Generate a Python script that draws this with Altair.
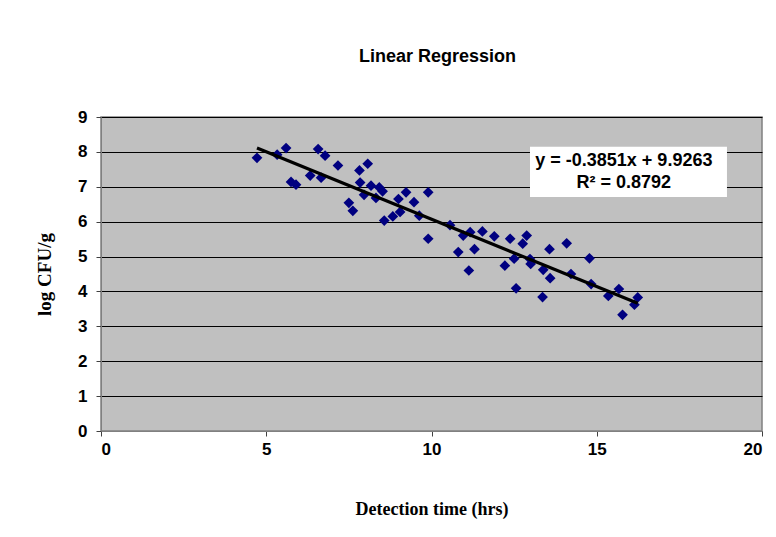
import altair as alt
import pandas as pd

# Detection time (hrs) and log CFU/g
x_vals = [4.72, 5.33, 5.60, 5.75, 5.90, 6.33, 6.57, 6.78, 6.66, 7.17,
          7.50, 7.62, 7.82, 8.07, 7.84, 7.96, 8.17, 8.42, 8.32, 8.52,
          8.57, 8.83, 9.00, 9.05, 9.23, 9.47, 9.63, 9.90, 9.90, 10.56,
          10.96, 11.17, 10.81, 11.30, 11.13, 11.54, 11.90, 12.38, 12.22, 12.50,
          12.76, 12.88, 12.56, 12.98, 13.00, 13.57, 14.09, 14.78, 13.38, 13.59,
          14.22, 14.83, 15.35, 15.67, 15.78, 16.14, 16.24, 13.36]
y_vals = [7.83, 7.92, 8.11, 7.14, 7.06, 7.32, 8.08, 7.89, 7.26, 7.61,
          6.54, 6.31, 7.47, 7.66, 7.12, 6.77, 7.03, 6.98, 6.68, 6.87,
          6.03, 6.15, 6.65, 6.28, 6.84, 6.56, 6.17, 6.84, 5.51, 5.90,
          5.60, 5.70, 5.13, 5.21, 4.60, 5.72, 5.58, 5.51, 4.74, 4.94,
          5.37, 5.60, 4.09, 4.93, 4.79, 5.21, 5.38, 4.95, 4.62, 4.38,
          4.50, 4.21, 3.87, 4.07, 3.33, 3.62, 3.83, 3.84]

x_ticks = [0, 5, 10, 15, 20]
y_ticks = [0, 1, 2, 3, 4, 5, 6, 7, 8, 9]

eq_lines = ["y = -0.3851x + 9.9263", "R\u00b2 = 0.8792"]
eq_line_y = [7.75, 7.12]
eq_center_x = [15.82, 15.82]
box = {"x": [12.98], "x2": [18.94], "y": [8.15], "y2": [6.71]}

df = pd.DataFrame({"x": x_vals, "y": y_vals})
df_eq = pd.DataFrame({"t": eq_lines, "x": eq_center_x, "y": eq_line_y})
df_box = pd.DataFrame(box)

xs = alt.Scale(domain=[0, 20], nice=False, zero=False)
ys = alt.Scale(domain=[0, 9], nice=False, zero=False)

xaxis = alt.Axis(values=x_ticks, grid=False, title="Detection time (hrs)",
                 labelFont="Liberation Sans", labelFontSize=17, labelFontWeight="bold",
                 labelColor="black", labelPadding=5,
                 titleFont="Liberation Serif", titleFontSize=18, titleFontWeight="bold",
                 titleColor="black", titlePadding=43,
                 domainColor="#808080", tickColor="#404040", tickSize=5)
yaxis = alt.Axis(values=y_ticks, grid=True, gridColor="black", gridWidth=1,
                 title="log CFU/g", labelOverlap=False,
                 labelFont="Liberation Sans", labelFontSize=17, labelFontWeight="bold",
                 labelColor="black", labelPadding=9,
                 titleFont="Liberation Serif", titleFontSize=19, titleFontWeight="bold",
                 titleColor="black", titlePadding=23,
                 domainColor="#808080", tickColor="#404040", tickSize=5)

X = alt.X("x:Q", scale=xs, axis=xaxis)
Y = alt.Y("y:Q", scale=ys, axis=yaxis)

points = alt.Chart(df).mark_point(shape="diamond", filled=True, color="#000080",
                                  size=115, opacity=1).encode(x=X, y=Y)

trend = alt.Chart(df).transform_regression("x", "y").mark_line(
    color="black", strokeWidth=3.2).encode(x=X, y=Y)

boxmark = alt.Chart(df_box).mark_rect(color="white", opacity=1).encode(
    x=X, x2="x2:Q", y=Y, y2="y2:Q")

eqtext = alt.Chart(df_eq).mark_text(font="Liberation Sans", fontSize=18,
                                    fontWeight="bold", color="black",
                                    baseline="middle", align="center").encode(
    x=X, y=Y, text="t:N")

chart = alt.layer(points, trend, boxmark, eqtext).properties(
    width=661, height=314,
    background="white",
    title=alt.TitleParams("Linear Regression", font="Liberation Sans", fontSize=18,
                          fontWeight="bold", color="black", offset=42, dx=6),
    autosize=alt.AutoSizeParams(type="none"),
    padding={"left": 93, "top": 109, "right": 5, "bottom": 90},
).configure_view(fill="#C0C0C0", stroke="#808080", strokeWidth=1.5)

chart.save("out.html", embed_options={"renderer": "svg", "actions": False})
